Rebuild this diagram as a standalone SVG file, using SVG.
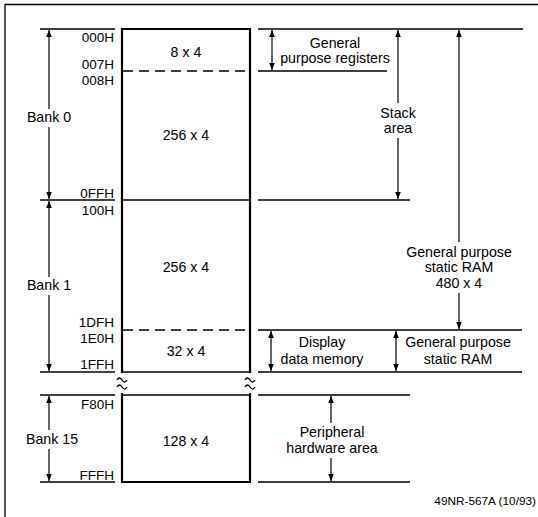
<svg xmlns="http://www.w3.org/2000/svg" width="538" height="517" viewBox="0 0 538 517">
<style>
text{font-family:"Liberation Sans",Arial,sans-serif;font-size:14.2px;fill:#000}
.m{text-anchor:middle}
.r{text-anchor:end;font-size:13.5px}
.ln{stroke:#000;stroke-width:1.3;fill:none}
.box{stroke:#000;stroke-width:2.2;fill:none}
.dash{stroke:#000;stroke-width:1.3;stroke-dasharray:10 6;fill:none}
.ar{stroke:#000;stroke-width:1.2;fill:none;marker-start:url(#ah);marker-end:url(#ah)}
.ad{stroke:#000;stroke-width:1.2;fill:none;marker-end:url(#ah)}
</style>
<defs>
<marker id="ah" viewBox="0 0 10 8" refX="10" refY="4" markerWidth="7" markerHeight="5.6" orient="auto-start-reverse" markerUnits="userSpaceOnUse">
<path d="M0,0 L10,4 L0,8 Z" fill="#000"/>
</marker>
</defs>
<g id="frame">
<line class="ln" x1="5" y1="4.5" x2="538" y2="4.5" stroke-width="1.6"/>
<line class="ln" x1="5" y1="4" x2="5" y2="517" stroke-width="1.6"/>
</g>
<g id="memory-box">
<path class="box" d="M122,373 V29 H250 V373"/>
<path class="box" d="M122,393 V482 H250 V393"/>
<line class="dash" x1="123" y1="71" x2="250" y2="71"/>
<line class="ln" x1="122" y1="200" x2="250" y2="200"/>
<line class="dash" x1="123" y1="330" x2="250" y2="330"/>
<line class="ln" x1="122" y1="372" x2="250" y2="372"/>
<line class="ln" x1="122" y1="395" x2="250" y2="395"/>
<path class="ln" d="M117,380 q2.5,-4 5,0 t5,0 M117,387 q2.5,-4 5,0 t5,0"/>
<path class="ln" d="M245,380 q2.5,-4 5,0 t5,0 M245,387 q2.5,-4 5,0 t5,0"/>
<text class="m" x="186" y="57">8 x 4</text>
<text class="m" x="186" y="140">256 x 4</text>
<text class="m" x="186" y="272">256 x 4</text>
<text class="m" x="186" y="356">32 x 4</text>
<text class="m" x="186" y="446">128 x 4</text>
</g>
<g id="addresses">
<text class="r" x="114" y="42">000H</text>
<text class="r" x="114" y="69">007H</text>
<text class="r" x="114" y="84.5">008H</text>
<text class="r" x="114" y="198">0FFH</text>
<text class="r" x="114" y="215">100H</text>
<text class="r" x="114" y="327">1DFH</text>
<text class="r" x="114" y="343">1E0H</text>
<text class="r" x="114" y="369">1FFH</text>
<text class="r" x="114" y="409">F80H</text>
<text class="r" x="114" y="480">FFFH</text>
</g>
<g id="connectors">
<line class="ln" x1="40" y1="29" x2="115" y2="29"/>
<line class="ln" x1="40" y1="200" x2="115" y2="200"/>
<line class="ln" x1="40" y1="372" x2="115" y2="372"/>
<line class="ln" x1="40" y1="395" x2="115" y2="395"/>
<line class="ln" x1="40" y1="482" x2="115" y2="482"/>
<line class="ln" x1="258" y1="29" x2="523" y2="29"/>
<line class="ln" x1="258" y1="71" x2="387" y2="71"/>
<line class="ln" x1="258" y1="200" x2="410" y2="200"/>
<line class="ln" x1="258" y1="330" x2="522" y2="330"/>
<line class="ln" x1="258" y1="372" x2="522" y2="372"/>
<line class="ln" x1="258" y1="395" x2="410" y2="395"/>
<line class="ln" x1="258" y1="482" x2="410" y2="482"/>
<line class="ad" x1="49" y1="109" x2="49" y2="30"/>
<line class="ad" x1="49" y1="127" x2="49" y2="199"/>
<line class="ad" x1="49" y1="277" x2="49" y2="201"/>
<line class="ad" x1="49" y1="295" x2="49" y2="371"/>
<line class="ad" x1="49" y1="430" x2="49" y2="396"/>
<line class="ad" x1="49" y1="449" x2="49" y2="481"/>
<line class="ar" x1="272" y1="30" x2="272" y2="70"/>
<line class="ad" x1="398" y1="103" x2="398" y2="30"/>
<line class="ad" x1="398" y1="138" x2="398" y2="199"/>
<line class="ad" x1="459" y1="242" x2="459" y2="30"/>
<line class="ad" x1="459" y1="293" x2="459" y2="329"/>
<line class="ar" x1="271" y1="331" x2="271" y2="371"/>
<line class="ar" x1="396" y1="331" x2="396" y2="371"/>
<line class="ad" x1="331" y1="423" x2="331" y2="396"/>
<line class="ad" x1="331" y1="458" x2="331" y2="481"/>
</g>
<g id="bank-labels">
<text class="m" x="49" y="122">Bank 0</text>
<text class="m" x="49" y="290">Bank 1</text>
<text class="m" x="52" y="444">Bank 15</text>
</g>
<g id="gp-registers">
<text class="m" x="335" y="48">General</text>
<text class="m" x="335" y="63">purpose registers</text>
</g>
<g id="stack-area">
<text class="m" x="398" y="118">Stack</text>
<text class="m" x="398" y="133">area</text>
</g>
<g id="gp-ram-480">
<text class="m" x="459" y="257">General purpose</text>
<text class="m" x="459" y="272">static RAM</text>
<text class="m" x="459" y="288">480 x 4</text>
</g>
<g id="display-memory">
<text class="m" x="322" y="347">Display</text>
<text class="m" x="322" y="364">data memory</text>
</g>
<g id="gp-ram">
<text class="m" x="458" y="347">General purpose</text>
<text class="m" x="458" y="364">static RAM</text>
</g>
<g id="peripheral">
<text class="m" x="332" y="437">Peripheral</text>
<text class="m" x="332" y="453">hardware area</text>
</g>
<text x="536" y="505" style="font-size:11.8px;text-anchor:end">49NR-567A (10/93)</text>
</svg>
